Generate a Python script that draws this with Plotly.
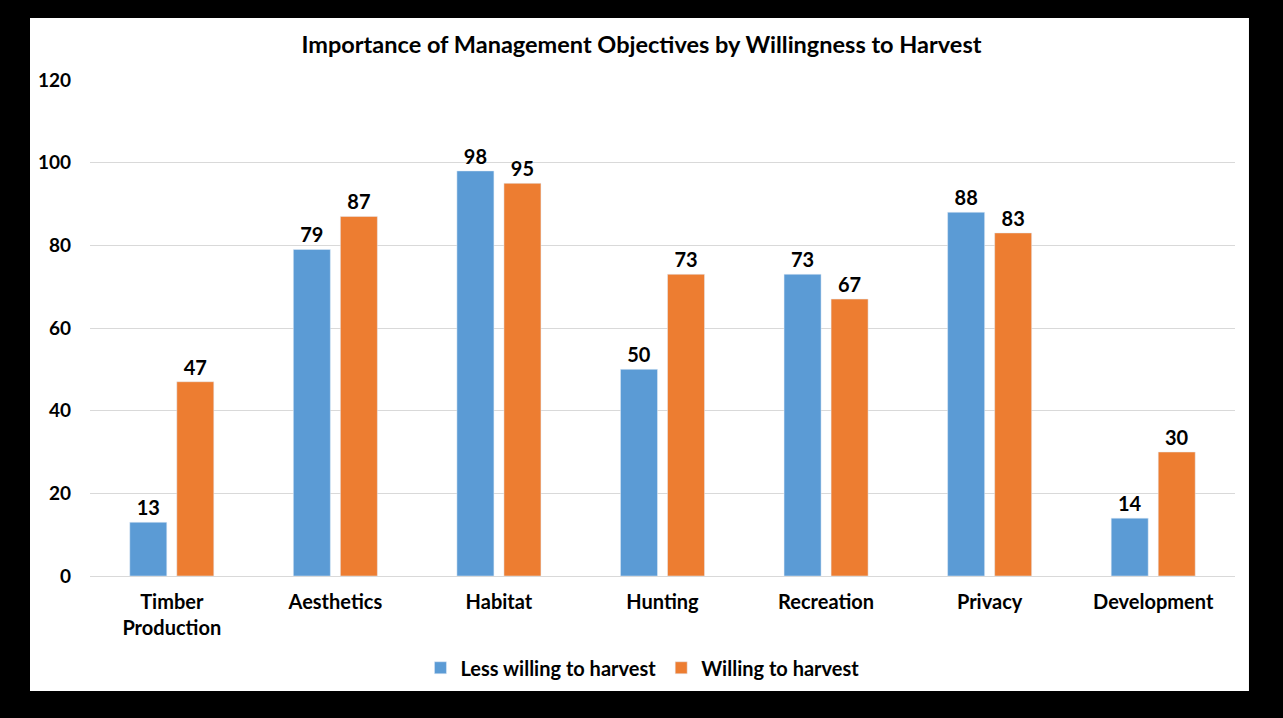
import plotly.graph_objects as go

categories = ["Timber<br>Production", "Aesthetics", "Habitat", "Hunting",
              "Recreation", "Privacy", "Development"]
less_willing = [13, 79, 98, 50, 73, 88, 14]
willing = [47, 87, 95, 73, 67, 83, 30]

FONT = "Lato"

fig = go.Figure()
fig.add_trace(go.Bar(
    x=categories, y=less_willing, name="Less willing to harvest",
    marker_color="#5B9BD5", text=less_willing, textposition="outside",
    textfont=dict(size=20, color="black", family=FONT, weight="bold"),
    cliponaxis=False,
))
fig.add_trace(go.Bar(
    x=categories, y=willing, name="Willing to harvest",
    marker_color="#ED7D31", text=willing, textposition="outside",
    textfont=dict(size=20, color="black", family=FONT, weight="bold"),
    cliponaxis=False,
))

# white card on black background
fig.add_shape(type="rect", xref="paper", yref="paper",
              x0=-0.0524, x1=1.0122, y0=-0.232, y1=1.125,
              fillcolor="white", line_width=0, layer="below")

fig.update_layout(
    width=1283, height=718,
    paper_bgcolor="black", plot_bgcolor="rgba(0,0,0,0)",
    margin=dict(l=90, r=48, t=80, b=142),
    barmode="group", bargap=0.425, bargroupgap=0.213,
    font=dict(family=FONT, color="black", size=20, weight="bold"),
    title=dict(text="Importance of Management Objectives by Willingness to Harvest",
               x=0.5, xanchor="center", y=0.937, yanchor="middle",
               font=dict(size=23.5, family=FONT, color="black", weight="bold")),
    legend=dict(orientation="h", x=0.4825, xanchor="center", y=-0.185, yanchor="middle",
                font=dict(size=20, family=FONT, weight="bold"),
                bgcolor="rgba(0,0,0,0)", traceorder="normal"),
    xaxis=dict(showgrid=False, showline=True, linecolor="#D9D9D9", linewidth=1,
               tickfont=dict(size=20, family=FONT, weight="bold"), ticks="",
               ticklabelstandoff=8),
    yaxis=dict(range=[0, 120], dtick=20, showgrid=True, gridcolor="#D9D9D9",
               zeroline=False, showline=False, ticks="", ticklabelstandoff=18,
               tickfont=dict(size=19, family=FONT, weight="bold")),
)
fig.write_html(
    "out.html",
    config={"displayModeBar": False},
    post_script="document.body.style.margin='0';document.body.style.background='black';"
                "document.body.style.overflow='hidden';",
)
